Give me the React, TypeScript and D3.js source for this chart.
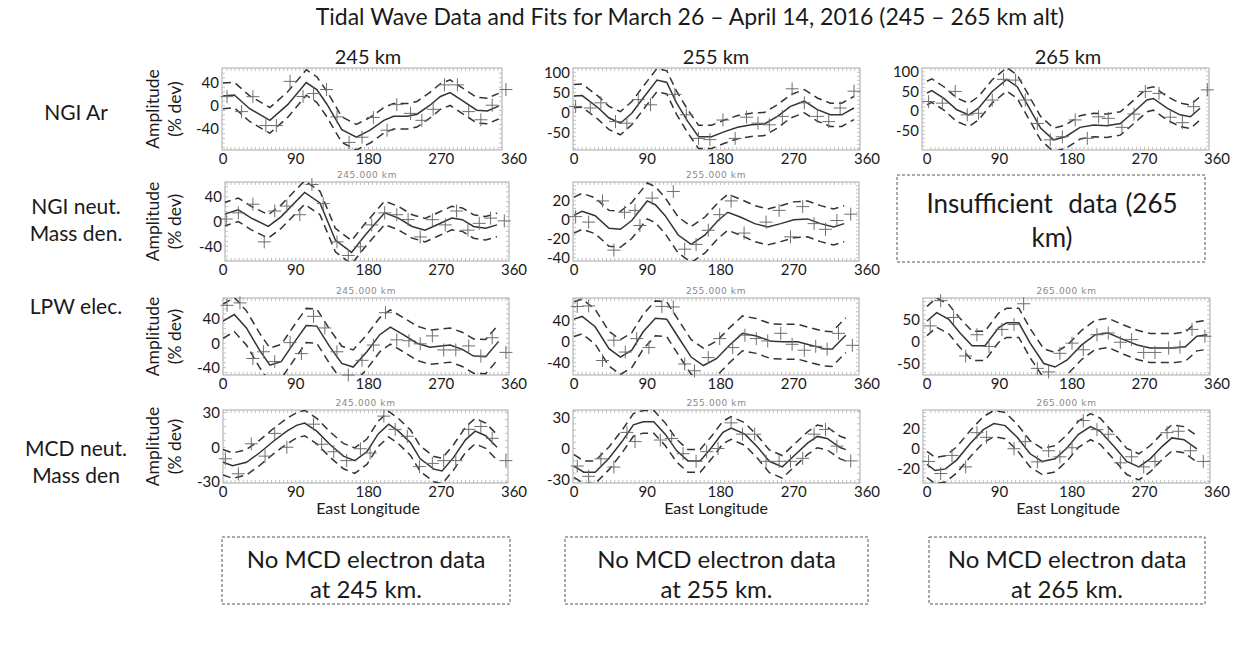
import React from 'react';
import * as d3 from 'd3';

// ---------------- text ----------------
const TITLE = 'Tidal Wave Data and Fits for March 26 \u2013 April 14, 2016 (245 \u2013 265 km alt)';
const columnTitles = ['245 km', '255 km', '265 km'];
const rowLabels = [['NGI Ar'], ['NGI neut.', 'Mass den.'], ['LPW elec.'], ['MCD neut.', 'Mass den']];
const subLabels = ['245.000 km', '255.000 km', '265.000 km'];
const xTicks = [0, 90, 180, 270, 360];
const xAxisTitle = 'East Longitude';
const yAxisTitle = ['Amplitude', '(% dev)'];
const noDataLines = [
  ['No MCD electron data', 'at 245 km.'],
  ['No MCD electron data', 'at 255 km.'],
  ['No MCD electron data', 'at 265 km.'],
];
const insufficientLines = ['Insufficient  data (265', 'km)'];

// ---------------- data: fits [lon, %dev] ----------------
const ngiAr245Fit = [[0,17],[14,18.5],[33,-5],[58,-25],[80,2],[103,40],[116,28],[128,4],[147,-41],[165,-54],[182,-42],[199,-25],[211,-18],[228,-18],[240,-14.5],[256,1],[269,16],[281,22.6],[298,7],[314,-7.5],[327,-9],[341,-0.6]];
const ngiAr245Pts = [[5,15.7],[23,-10],[37,15.7],[53,-34],[66,-34],[83,42],[99,16],[112,21],[128,28],[141,-19],[156,-63],[172,-54],[186,-20],[203,-42],[215,2],[232,-13],[246,-25],[260,-6],[274,36],[290,36],[304,-10],[319,-24],[333,1],[350,28]];

const ngiAr255Fit = [[0,41],[10,42],[30,11],[43,-14],[57,-27],[71,-2],[85,36],[102,81],[114,75],[126,24],[140,-23],[153,-61],[169,-61],[185,-48],[201,-37],[218,-31],[234,-29],[250,-10],[266,15],[283,28],[299,7],[315,-6],[329,-6],[344,11]];
const ngiAr255Pts = [[2,15],[20,11],[33,24],[51,-23],[65,-27],[79,32],[94,19],[124,45],[138,-6],[153,-65],[167,-68],[183,-19],[198,-65],[212,-12],[226,-27],[240,-31],[256,-10],[268,59],[283,24],[299,-10],[313,-23],[327,11],[344,53]];

const ngiAr265Fit = [[0,46],[6,52],[21,32],[37,3],[52,-10],[64,7],[81,50],[99,81],[112,62],[126,11],[141,-44],[157,-74],[172,-66],[190,-42],[207,-36],[223,-38],[240,-32],[257,-2],[273,28],[281,32],[298,7],[314,-10],[327,-15],[339,7]];
const ngiAr265Pts = [[2,24],[19,20],[35,50],[50,-10],[64,-6],[81,28],[95,81],[110,79],[122,28],[137,-32],[153,-74],[168,-66],[184,-23],[199,-70],[213,-15],[225,-19],[242,-42],[257,-8],[271,50],[288,45],[302,-16],[317,-30],[331,11],[348,54]];

const ngiMass245Fit = [[0,11],[19,19],[35,5.5],[56,-8],[72,8],[101,47],[120,30],[139,-30],[159,-50],[176,-22],[200,14],[217,5.5],[234,-8],[250,-14],[267,-4],[283,5.5],[296,3],[310,-8],[325,-11],[339,-5.5]];
const ngiMass245Pts = [[4,4],[19,14],[37,28],[51,-33],[64,17],[79,25],[95,11],[110,60],[124,29],[141,-33],[155,-55],[170,-41],[184,-5.5],[200,14],[215,11],[229,3],[244,-25],[259,3],[275,-5.5],[289,17],[303,-14],[317,-3],[331,5.5],[348,1]];

const ngiMass255Fit = [[0,5],[10,9],[26,4.4],[43,-9],[57,-10],[71,-0.7],[90,20],[100,16],[112,4.4],[128,-16],[144,-26],[161,-16],[177,-0.7],[189,8],[205,2.7],[222,-4],[238,-7.5],[254,-4],[270,0],[287,1],[303,-4],[319,-7.5],[332,-4]];
const ngiMass255Pts = [[2,3.4],[18,-2.4],[35,20],[49,-32],[62,8],[75,10],[81,-6],[96,23],[122,30],[136,-31],[150,-26],[165,-11],[179,5.5],[193,20],[209,-14],[236,-2.4],[252,10],[266,-18],[281,14],[295,-4],[309,-10],[323,-0.7],[340,6]];

const lpw245Fit = [[0,36],[14,47],[29,25],[45,-11],[58,-36],[72,-30],[89,3],[103,29],[116,28],[132,-5.5],[147,-33],[161,-39],[178,-14],[194,14],[207,26.5],[223,14],[240,0],[256,-6.6],[281,-3],[296,-10],[310,-21],[325,-22],[341,3]];
const lpw245Pts = [[5,62],[21,66],[37,-25],[50,-14],[64,-30],[83,1],[97,-17],[112,44],[126,25],[141,-14],[155,-52],[172,-28],[186,-3],[201,50],[215,5.5],[230,4],[244,-1],[259,12],[273,-11],[288,-11],[304,-4.4],[319,-21],[333,9],[350,-15]];

const lpw255Fit = [[0,42],[10,47],[26,27.5],[43,-14],[57,-30],[71,-17],[85,18],[100,43.5],[114,41.6],[128,8],[144,-30],[159,-46],[175,-33],[191,-7.7],[207,15],[224,10],[242,0],[258,-1],[275,-1],[291,-7.7],[307,-14],[317,-15],[334,11.5]];
const lpw255Pts = [[4,66],[18,67],[35,-36.5],[49,2],[63,-20.5],[77,5],[92,-12],[108,66],[122,65],[136,-43],[148,-56],[165,-31],[179,5],[195,-12],[210,11.5],[224,5],[238,0.6],[254,15],[268,-5.8],[283,-17],[297,-9.6],[311,-15],[325,15],[342,-7.7]];

const lpw265Fit = [[0,46],[12,65],[27,50],[41,19],[56,-10],[72,-10],[89,31],[99,42],[114,42],[128,-4],[145,-50],[159,-58],[174,-42],[192,-8],[209,15],[225,19],[244,4],[261,-8],[277,-15],[294,-15],[308,-15],[321,-11.5],[335,11.5],[348,15]];
const lpw265Pts = [[4,35],[17,92],[33,54],[48,-33],[62,15],[77,-11.5],[93,27],[108,38],[120,85],[137,-61],[151,-69],[165,-27],[180,-4],[194,-19],[211,15],[225,19],[240,-2],[254,4],[269,-25],[283,-25],[300,-15],[314,-13],[329,27],[345,11.5]];

const mcd245Fit = [[0,-13],[12,-16],[29,-13],[45,-5],[62,5],[79,14],[91,19],[101,21],[116,14],[132,2.6],[149,-7.7],[163,-11.6],[178,-3.9],[192,11.6],[205,20],[217,14],[232,3.9],[244,-10],[261,-19],[271,-20.6],[285,-9],[300,6.4],[312,14],[325,10],[339,0]];
const mcd245Pts = [[3,-10],[19,-23],[35,3],[52,-7.7],[64,12],[79,0],[112,20],[122,2.6],[137,-3.9],[153,-11.6],[170,-1.3],[182,-5],[199,27],[213,15.5],[228,9.5],[243,-16.8],[259,-14],[273,-11.6],[288,-11.6],[304,15.5],[319,18],[333,7.7],[350,-11.6]];

const mcd255Fit = [[0,-17],[12,-23],[26,-23],[43,-9.5],[59,6.8],[73,23],[85,26],[98,26],[112,14],[126,-2],[140,-12],[155,-12],[169,1],[183,15.7],[193,20],[210,14],[226,1],[240,-12.4],[256,-17.8],[271,-6.5],[287,5.3],[299,11.8],[311,9.8],[327,1],[334,-1]];
const mcd255Pts = [[4,-17],[18,-27],[33,-10],[49,-18],[65,15.7],[75,6.8],[106,8.3],[120,9.8],[134,-5],[150,-12.4],[163,-3],[177,0],[193,25],[207,14],[222,14],[236,-12.4],[252,-12.4],[266,-12.4],[281,-9.5],[295,14],[309,18.6],[323,2.4],[340,-12]];

const mcd265Fit = [[0,-15.6],[10,-21.6],[23,-20],[37,-11],[54,5.4],[70,19],[83,25],[97,23],[112,11.4],[128,-5],[143,-12.6],[159,-10],[174,1],[188,14.4],[203,22],[215,17.4],[232,2.4],[248,-12.6],[263,-18],[277,-10],[292,2.4],[304,10.8],[319,9],[335,0]];
const mcd265Pts = [[2,-12.6],[17,-24.6],[31,-6.6],[48,-18],[62,16],[74,11.4],[108,0],[122,7],[137,-13],[151,-2],[165,-8],[180,1],[194,28],[211,19],[225,14.4],[240,-14],[254,-8],[269,-18],[283,-12.6],[298,16],[312,17.4],[327,-2],[343,-12.6]];

// fit uncertainty (half-width of the dashed envelope, % dev), per panel
const sigmas = [22, 29, 30, 19, 19, 28, 33, 33, 11, 11, 13];
// y axis extents and tick labels, per panel
const yDomains = [[-76,65],[-94,111],[-100,110],[-64,64],[-43.5,40],[-52,74],[-64,82],[-76,98],[-31,32.3],[-33.5,37.5],[-34,38.5]];
const yTickSets = [[-40,0,40],[-50,0,50,100],[-50,0,50,100],[-40,0,40],[-40,-20,0,20],[-40,0,40],[-40,0,40],[-50,0,50],[-30,0,30],[-30,0,30],[-20,0,20]];

// ---------------- layout ----------------
const COLS = [
  { x0: 223, x360: 514, center: 368 },
  { x0: 574, x360: 867, center: 716 },
  { x0: 927, x360: 1217, center: 1068 },
];
const ROWS = [
  { top: 68, bottom: 150, label: 113 },
  { top: 182, bottom: 261, label: 220 },
  { top: 298, bottom: 375, label: 307 },
  { top: 410, bottom: 483, label: 462 },
];
const panelDefs = [
  { row: 0, col: 0, boxL: 222, boxR: 502, fit: ngiAr245Fit, pts: ngiAr245Pts },
  { row: 0, col: 1, boxL: 573, boxR: 860, fit: ngiAr255Fit, pts: ngiAr255Pts },
  { row: 0, col: 2, boxL: 922, boxR: 1209, fit: ngiAr265Fit, pts: ngiAr265Pts },
  { row: 1, col: 0, boxL: 225, boxR: 509, fit: ngiMass245Fit, pts: ngiMass245Pts },
  { row: 1, col: 1, boxL: 573, boxR: 859, fit: ngiMass255Fit, pts: ngiMass255Pts },
  { row: 2, col: 0, boxL: 223, boxR: 509, fit: lpw245Fit, pts: lpw245Pts },
  { row: 2, col: 1, boxL: 573, boxR: 859, fit: lpw255Fit, pts: lpw255Pts },
  { row: 2, col: 2, boxL: 923, boxR: 1210, fit: lpw265Fit, pts: lpw265Pts },
  { row: 3, col: 0, boxL: 223, boxR: 508, fit: mcd245Fit, pts: mcd245Pts },
  { row: 3, col: 1, boxL: 573, boxR: 860, fit: mcd255Fit, pts: mcd255Pts },
  { row: 3, col: 2, boxL: 923, boxR: 1210, fit: mcd265Fit, pts: mcd265Pts },
];

const FONT = "Lato, 'Open Sans', 'DejaVu Sans', sans-serif";
const INK = '#1a1a1a';
const LINE = '#333333';

function Panel({ def, idx }: any) {
  const c = COLS[def.col];
  const r = ROWS[def.row];
  const yDomain = yDomains[idx];
  const yTicks = yTickSets[idx];
  const sigma = sigmas[idx];
  const x = d3.scaleLinear().domain([0, 360]).range([c.x0, c.x360]);
  const y = d3.scaleLinear().domain(yDomain).range([r.bottom, r.top]);
  const line = d3.line<number[]>().x((d) => x(d[0])).y((d) => y(d[1]));
  const upper = def.fit.map((d: number[]) => [d[0], d[1] + sigma]);
  const lower = def.fit.map((d: number[]) => [d[0], d[1] - sigma]);
  const clipId = `clip-${idx}`;
  const bL = def.boxL, bR = def.boxR;
  const xMinor = d3.range(5, 360, 5).map((v) => x(v)).filter((v) => v > bL + 1 && v < bR - 1);
  const yStep = yTicks[1] - yTicks[0];
  const minorStep = yStep / 5;
  const yMinor = d3
    .range(Math.ceil(yDomain[0] / minorStep) * minorStep, yDomain[1], minorStep)
    .map((v) => y(v))
    .filter((v) => v > r.top + 1 && v < r.bottom - 1);
  const pw = 6.5;
  return (
    <g>
      <defs>
        <clipPath id={clipId}>
          <rect x={bL} y={r.top} width={bR - bL} height={r.bottom - r.top} />
        </clipPath>
      </defs>
      {def.row > 0 && (
        <text x={(bL + bR) / 2} y={r.top - 4} textAnchor="middle" fontSize={9} fill="#8a8a8a" fontFamily="'DejaVu Sans', sans-serif" letterSpacing={0.6}>
          {subLabels[def.col]}
        </text>
      )}
      <rect x={bL} y={r.top} width={bR - bL} height={r.bottom - r.top} fill="none" stroke="#a8a8a8" strokeWidth={1} />
      {xMinor.map((v, i) => (
        <g key={'xm' + i} stroke="#b5b5b5" strokeWidth={0.8}>
          <line x1={v} x2={v} y1={r.bottom} y2={r.bottom - 3} />
          <line x1={v} x2={v} y1={r.top} y2={r.top + 3} />
        </g>
      ))}
      {yMinor.map((v, i) => (
        <g key={'ym' + i} stroke="#b5b5b5" strokeWidth={0.8}>
          <line x1={bL} x2={bL + 3} y1={v} y2={v} />
          <line x1={bR} x2={bR - 3} y1={v} y2={v} />
        </g>
      ))}
      <g clipPath={`url(#${clipId})`} fill="none">
        <path d={line(upper) || ''} stroke={LINE} strokeWidth={1.5} strokeDasharray="8,5" />
        <path d={line(lower) || ''} stroke={LINE} strokeWidth={1.5} strokeDasharray="8,5" />
        <path d={line(def.fit) || ''} stroke={LINE} strokeWidth={1.5} />
      </g>
      <g stroke="#6e6e6e" strokeWidth={1}>
        {def.pts.map((d: number[], i: number) => (
          <g key={'p' + i}>
            <line x1={x(d[0]) - pw} x2={x(d[0]) + pw} y1={y(d[1])} y2={y(d[1])} />
            <line x1={x(d[0])} x2={x(d[0])} y1={y(d[1]) - pw} y2={y(d[1]) + pw} />
          </g>
        ))}
      </g>
      {yTicks.map((t: number) => (
        <text key={'yt' + t} x={bL - 3} y={y(t)} dy="0.36em" textAnchor="end" fontSize={15} fill={INK} fontFamily={FONT}>
          {t}
        </text>
      ))}
      {xTicks.map((t) => (
        <text key={'xt' + t} x={x(t)} y={r.bottom + 14} textAnchor="middle" fontSize={15} fill={INK} fontFamily={FONT}>
          {t}
        </text>
      ))}
    </g>
  );
}

export default function App() {
  const W = 1242, H = 646;
  return (
    <svg width={W} height={H} style={{ position: 'absolute', left: 0, top: 0, display: 'block', background: '#fff' }}>
      <rect x={0} y={0} width={W} height={H} fill="#fff" />
      <text x={690} y={25} textAnchor="middle" fontSize={23} fill={INK} fontFamily={FONT}>{TITLE}</text>
      {columnTitles.map((t, i) => (
        <text key={'ct' + i} x={COLS[i].center} y={64} textAnchor="middle" fontSize={20} fill={INK} fontFamily={FONT}>{t}</text>
      ))}
      {rowLabels.map((lines, i) => (
        <text key={'rl' + i} x={76} y={ROWS[i].label - (lines.length - 1) * 13.5} textAnchor="middle" fontSize={21} fill={INK} fontFamily={FONT}>
          {lines.map((l, j) => (
            <tspan key={j} x={76} dy={j === 0 ? '0.35em' : 27}>{l}</tspan>
          ))}
        </text>
      ))}
      {ROWS.map((r, i) => {
        const cy = (r.top + r.bottom) / 2;
        return (
          <g key={'yl' + i} fontFamily={FONT} fontSize={17.5} fill={INK}>
            <text transform={`translate(153,${cy}) rotate(-90)`} textAnchor="middle" dy="0.35em">{yAxisTitle[0]}</text>
            <text transform={`translate(175,${cy}) rotate(-90)`} textAnchor="middle" dy="0.35em">{yAxisTitle[1]}</text>
          </g>
        );
      })}
      {panelDefs.map((def, i) => (
        <Panel key={'pn' + i} def={def} idx={i} />
      ))}
      {COLS.map((c, i) => (
        <text key={'el' + i} x={c.center} y={ROWS[3].bottom + 31} textAnchor="middle" fontSize={16} fill={INK} fontFamily={FONT}>{xAxisTitle}</text>
      ))}
      {/* insufficient data box */}
      <rect x={897} y={175} width={308} height={87} fill="none" stroke="#555" strokeWidth={1} strokeDasharray="3,2" />
      {insufficientLines.map((l, j) => (
        <text key={'in' + j} x={1052} y={213 + j * 34} textAnchor="middle" fontSize={26} fill={INK} fontFamily={FONT} style={{ whiteSpace: 'pre' }} wordSpacing={1}>{l}</text>
      ))}
      {/* no MCD electron data boxes */}
      {[[222, 510], [565, 868], [929, 1205]].map((b, i) => (
        <g key={'nb' + i}>
          <rect x={b[0]} y={537} width={b[1] - b[0]} height={67} fill="none" stroke="#555" strokeWidth={1} strokeDasharray="3,2" />
          {noDataLines[i].map((l, j) => (
            <text key={j} x={(b[0] + b[1]) / 2} y={568 + j * 30} textAnchor="middle" fontSize={24} fill={INK} fontFamily={FONT}>{l}</text>
          ))}
        </g>
      ))}
    </svg>
  );
}
